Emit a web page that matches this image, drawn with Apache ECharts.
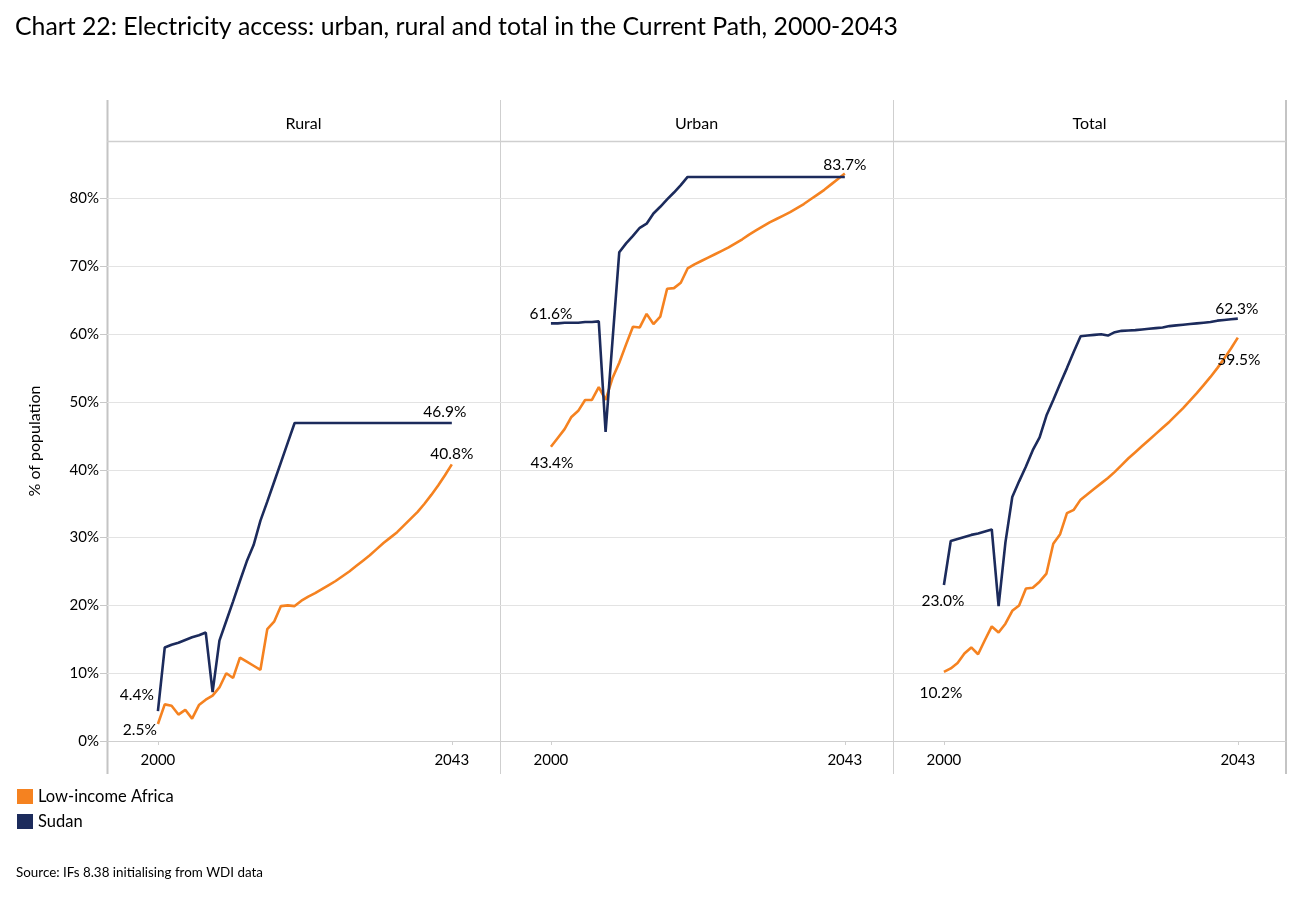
<!DOCTYPE html>
<html><head><meta charset="utf-8">
<script src="https://cdn.jsdelivr.net/npm/echarts@6/dist/echarts.min.js"></script>
<style>html,body{margin:0;padding:0;background:#fff}#c{width:1301px;height:923px}</style>
</head><body><div id="c"></div>
<script>
const years = [2000,2001,2002,2003,2004,2005,2006,2007,2008,2009,2010,2011,2012,2013,2014,2015,2016,2017,2018,2019,2020,2021,2022,2023,2024,2025,2026,2027,2028,2029,2030,2031,2032,2033,2034,2035,2036,2037,2038,2039,2040,2041,2042,2043];
const panelTitles = ['Rural','Urban','Total'];
const seriesNames = ['Low-income Africa','Sudan'];
const xTickLabels = [2000, 2043];

const ruralLIA = [2.5,5.4,5.2,3.9,4.6,3.3,5.3,6.1,6.7,7.9,10.0,9.3,12.3,11.7,11.1,10.5,16.5,17.6,19.9,20.0,19.9,20.7,21.3,21.8,22.4,23.0,23.6,24.3,25.0,25.8,26.6,27.4,28.3,29.2,30.0,30.8,31.8,32.8,33.8,35.0,36.3,37.7,39.2,40.8];
const ruralSudan = [4.4,13.8,14.2,14.5,14.9,15.3,15.6,16.0,7.2,14.8,17.7,20.6,23.6,26.5,28.9,32.5,35.3,38.2,41.1,44.0,46.9,46.9,46.9,46.9,46.9,46.9,46.9,46.9,46.9,46.9,46.9,46.9,46.9,46.9,46.9,46.9,46.9,46.9,46.9,46.9,46.9,46.9,46.9,46.9];
const urbanLIA = [43.4,44.7,46.0,47.8,48.7,50.3,50.3,52.2,50.3,53.5,55.8,58.5,61.1,61.0,63.0,61.5,62.6,66.7,66.8,67.6,69.7,70.3,70.8,71.3,71.8,72.3,72.8,73.4,74.0,74.7,75.3,75.9,76.5,77.0,77.5,78.0,78.6,79.2,79.9,80.6,81.3,82.1,82.9,83.7];
const urbanSudan = [61.6,61.6,61.7,61.7,61.7,61.8,61.8,61.9,45.6,58.9,72.1,73.4,74.5,75.7,76.3,77.8,78.8,79.9,80.9,82.0,83.2,83.2,83.2,83.2,83.2,83.2,83.2,83.2,83.2,83.2,83.2,83.2,83.2,83.2,83.2,83.2,83.2,83.2,83.2,83.2,83.2,83.2,83.2,83.2];
const totalLIA = [10.2,10.7,11.5,12.9,13.8,12.8,14.9,16.9,16.0,17.3,19.2,20.0,22.5,22.6,23.5,24.7,29.1,30.5,33.6,34.1,35.6,36.4,37.2,38.0,38.8,39.7,40.7,41.7,42.6,43.5,44.4,45.3,46.2,47.1,48.1,49.1,50.2,51.3,52.5,53.7,55.0,56.4,57.9,59.5];
const totalSudan = [23.0,29.5,29.8,30.1,30.4,30.6,30.9,31.2,19.9,29.3,36.0,38.3,40.5,42.9,44.8,48.0,50.3,52.7,55.0,57.4,59.7,59.8,59.9,60.0,59.8,60.3,60.5,60.55,60.6,60.7,60.8,60.9,61.0,61.2,61.3,61.4,61.5,61.6,61.7,61.8,62.0,62.1,62.2,62.3];

const panelData = [[ruralLIA, ruralSudan],[urbanLIA, urbanSudan],[totalLIA, totalSudan]];
const colors = ['#F58220','#1C2B5C'];
const FONT = 'Lato, "Noto Sans", sans-serif';

// label placement for start/end values: [panel][series] -> [startLabel, endLabel]
const R = (dx, dy) => ({position:[dx, dy], align:'right', verticalAlign:'middle'});
const C = (dx, dy) => ({position:[dx, dy], align:'center', verticalAlign:'middle'});
const labelPlace = [
  [[R(-1, 6), C(0, -10)],
   [R(-4, -16), C(-7, -11)]],
  [[C(1, 16), C(0, -9)],
   [C(0, -9), null]],
  [[C(-3, 21), C(1, 22)],
   [C(-1, 16), C(-1, -10)]]
];

const L0 = 107, PW = 393, TOP = 141, H = 600;
const grids = [], xAxes = [], yAxes = [], series = [];
for (let p = 0; p < 3; p++) {
  grids.push({left: L0 + PW*p, width: PW, top: TOP, height: H});
  xAxes.push({
    type:'value', gridIndex:p, min:1992.55, max:2050.05,
    axisLine:{show:true, lineStyle:{color:'#cfcfcf', width:1}},
    axisTick:{show:true, customValues:xTickLabels, length:4, lineStyle:{color:'#cfcfcf'}},
    axisLabel:{show:true, customValues:xTickLabels, margin:12, color:'#000', fontSize:15, fontFamily:FONT, formatter: v => String(v)},
    splitLine:{show:false}
  });
  yAxes.push({
    type:'value', gridIndex:p, min:0, max:88.5, interval:10,
    name: p===0 ? '% of population' : '', nameLocation:'middle', nameGap:64, nameRotate:90,
    nameTextStyle:{color:'#000', fontSize:16, fontFamily:FONT},
    axisLine:{show:false},
    axisTick:{show:p===0, length:7, lineStyle:{color:'#c8c8c8'}},
    axisLabel:{show:p===0, showMaxLabel:false, margin:8, color:'#000', fontSize:15, fontFamily:FONT, formatter:'{value}%'},
    splitLine:{show:true, showMaxLine:false, lineStyle:{color:'#e3e3e3', width:1}}
  });
  for (let s = 0; s < 2; s++) {
    const vals = panelData[p][s];
    const last = years.length - 1;
    const data = years.map((y, k) => {
      const item = {value:[y, vals[k]]};
      const spec = k === 0 ? labelPlace[p][s][0] : (k === last ? labelPlace[p][s][1] : null);
      if (spec) item.label = Object.assign({show:true}, spec);
      return item;
    });
    series.push({
      name: seriesNames[s], type:'line', xAxisIndex:p, yAxisIndex:p,
      data, showSymbol:true, showAllSymbol:true, symbol:'circle', symbolSize:0.01, z: 2 + s,
      lineStyle:{color:colors[s], width:2.6}, itemStyle:{color:colors[s]},
      label:{show:false, color:'#000', fontSize:15.5, fontFamily:FONT, formatter: d => d.value[1].toFixed(1) + '%'},
      labelLayout:{hideOverlap:false}, emphasis:{disabled:true}, animation:false
    });
  }
}

const graphics = [];
const vline = (x, w, c) => ({type:'line', shape:{x1:x, y1:100, x2:x, y2:774}, style:{stroke:c, lineWidth:w}, silent:true});
graphics.push(vline(107.5, 2, '#c4c4c4'));
graphics.push(vline(500.5, 1, '#cfcfcf'));
graphics.push(vline(893.5, 1, '#cfcfcf'));
graphics.push(vline(1286, 2, '#c4c4c4'));
graphics.push({type:'line', shape:{x1:107, y1:141.5, x2:1286, y2:141.5}, style:{stroke:'#cfcfcf', lineWidth:1.5}, silent:true});
panelTitles.forEach((t, p) => graphics.push({type:'text', x: L0 + PW*p + PW/2, y: 124,
  style:{text:t, fill:'#000', font:'16px ' + FONT, textAlign:'center', textVerticalAlign:'middle'}}));
graphics.push({type:'text', x:15, y:27, style:{text:'Chart 22: Electricity access: urban, rural and total in the Current Path, 2000-2043', fill:'#000', font:'24.8px ' + FONT, textVerticalAlign:'middle'}});
graphics.push({type:'text', x:16, y:873, style:{text:'Source: IFs 8.38 initialising from WDI data', fill:'#000', font:'13.4px ' + FONT, textVerticalAlign:'middle'}});

const chart = echarts.init(document.getElementById('c'));
chart.setOption({
  backgroundColor:'#fff',
  animation:false,
  grid: grids, xAxis: xAxes, yAxis: yAxes, series,
  legend:{data:seriesNames, orient:'vertical', left:17, top:788, padding:0, icon:'rect', itemWidth:16, itemHeight:15, itemGap:8,
    textStyle:{color:'#000', fontSize:16.5, fontFamily:FONT}, selectedMode:false},
  graphic: graphics
});
</script></body></html>
